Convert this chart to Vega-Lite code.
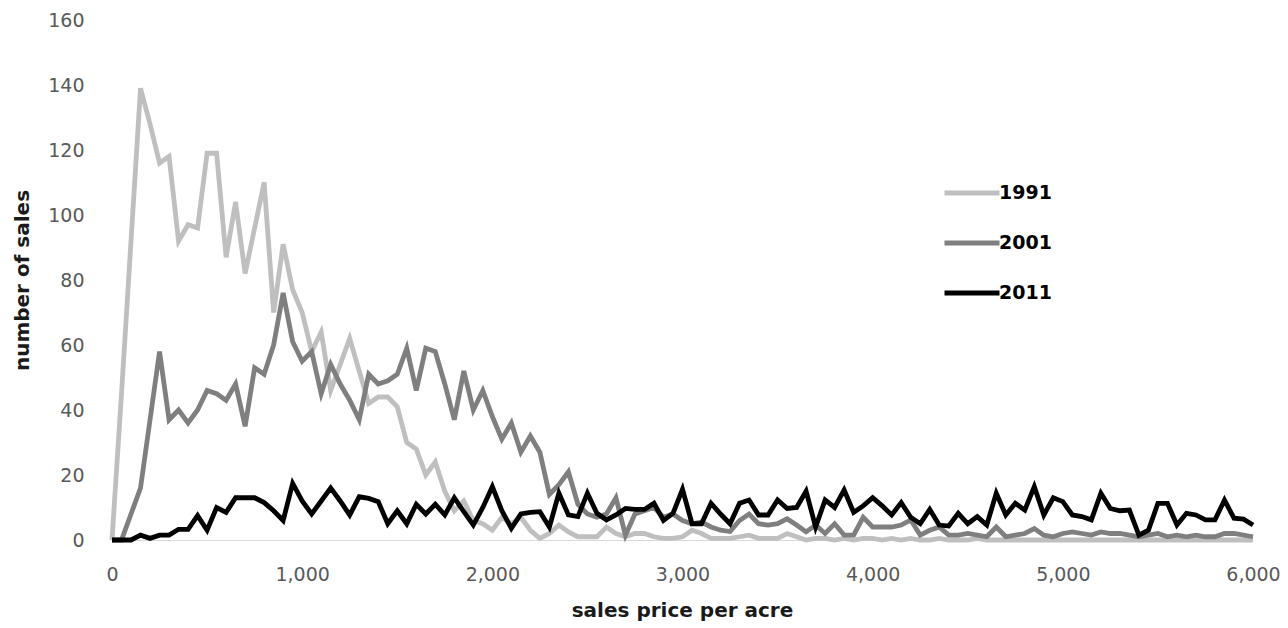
{
  "$schema": "https://vega.github.io/schema/vega-lite/v6.json",
  "width": 1141,
  "height": 520,
  "autosize": {"type": "none"},
  "padding": {"left": 112, "top": 20, "right": 35, "bottom": 88},
  "background": "white",
  "config": {
    "view": {"stroke": null},
    "font": "DejaVu Sans"
  },
  "data": {
    "values": [
      {"p": 0, "1991": 0, "2001": 0, "2011": 0},
      {"p": 50, "1991": 45, "2001": 0, "2011": 0},
      {"p": 100, "1991": 92, "2001": 8, "2011": 0},
      {"p": 150, "1991": 139, "2001": 16, "2011": 1.5},
      {"p": 200, "1991": 128, "2001": 37, "2011": 0.5},
      {"p": 250, "1991": 116, "2001": 58, "2011": 1.5},
      {"p": 300, "1991": 118, "2001": 37, "2011": 1.5},
      {"p": 350, "1991": 92, "2001": 40, "2011": 3.3},
      {"p": 400, "1991": 97, "2001": 36, "2011": 3.3},
      {"p": 450, "1991": 96, "2001": 40, "2011": 7.5},
      {"p": 500, "1991": 119, "2001": 46, "2011": 3},
      {"p": 550, "1991": 119, "2001": 45, "2011": 10},
      {"p": 600, "1991": 87, "2001": 43, "2011": 8.5},
      {"p": 650, "1991": 104, "2001": 48, "2011": 13},
      {"p": 700, "1991": 82, "2001": 35, "2011": 13},
      {"p": 750, "1991": 96, "2001": 53, "2011": 13},
      {"p": 800, "1991": 110, "2001": 51, "2011": 11.5},
      {"p": 850, "1991": 70, "2001": 60, "2011": 9},
      {"p": 900, "1991": 91, "2001": 76, "2011": 6},
      {"p": 950, "1991": 77, "2001": 61, "2011": 17.4},
      {"p": 1000, "1991": 70, "2001": 55, "2011": 12},
      {"p": 1050, "1991": 58, "2001": 58, "2011": 8},
      {"p": 1100, "1991": 64, "2001": 45, "2011": 12},
      {"p": 1150, "1991": 46, "2001": 54, "2011": 16},
      {"p": 1200, "1991": 54, "2001": 48, "2011": 12},
      {"p": 1250, "1991": 62, "2001": 43, "2011": 7.7},
      {"p": 1300, "1991": 52, "2001": 37, "2011": 13.3},
      {"p": 1350, "1991": 42, "2001": 51, "2011": 12.8},
      {"p": 1400, "1991": 44, "2001": 48, "2011": 11.8},
      {"p": 1450, "1991": 44, "2001": 49, "2011": 5},
      {"p": 1500, "1991": 41, "2001": 51, "2011": 9},
      {"p": 1550, "1991": 30, "2001": 59, "2011": 5},
      {"p": 1600, "1991": 28, "2001": 46, "2011": 11},
      {"p": 1650, "1991": 20, "2001": 59, "2011": 8},
      {"p": 1700, "1991": 24, "2001": 58, "2011": 11},
      {"p": 1750, "1991": 15, "2001": 48, "2011": 7.7},
      {"p": 1800, "1991": 9, "2001": 37, "2011": 13},
      {"p": 1850, "1991": 12, "2001": 52, "2011": 8.7},
      {"p": 1900, "1991": 6, "2001": 40, "2011": 4.6},
      {"p": 1950, "1991": 5, "2001": 46, "2011": 10},
      {"p": 2000, "1991": 3, "2001": 38, "2011": 16.4},
      {"p": 2050, "1991": 7, "2001": 31, "2011": 9},
      {"p": 2100, "1991": 5, "2001": 36, "2011": 3.6},
      {"p": 2150, "1991": 7, "2001": 27, "2011": 8},
      {"p": 2200, "1991": 3, "2001": 32, "2011": 8.5},
      {"p": 2250, "1991": 0.5, "2001": 27, "2011": 8.7},
      {"p": 2300, "1991": 2, "2001": 14, "2011": 4},
      {"p": 2350, "1991": 4.6, "2001": 17, "2011": 14.4},
      {"p": 2400, "1991": 2.5, "2001": 21, "2011": 7.7},
      {"p": 2450, "1991": 1, "2001": 11, "2011": 7.2},
      {"p": 2500, "1991": 1, "2001": 8, "2011": 14.4},
      {"p": 2550, "1991": 1, "2001": 7, "2011": 8.2},
      {"p": 2600, "1991": 4, "2001": 8, "2011": 6.2},
      {"p": 2650, "1991": 2, "2001": 13, "2011": 7.7},
      {"p": 2700, "1991": 1, "2001": 1.5, "2011": 9.7},
      {"p": 2750, "1991": 2, "2001": 8, "2011": 9.4},
      {"p": 2800, "1991": 2, "2001": 9, "2011": 9.4},
      {"p": 2850, "1991": 1, "2001": 10, "2011": 11.3},
      {"p": 2900, "1991": 0.5, "2001": 7, "2011": 6},
      {"p": 2950, "1991": 0.5, "2001": 8, "2011": 8.2},
      {"p": 3000, "1991": 1, "2001": 6, "2011": 15.6},
      {"p": 3050, "1991": 3, "2001": 5, "2011": 5},
      {"p": 3100, "1991": 2, "2001": 5.5, "2011": 5},
      {"p": 3150, "1991": 0.5, "2001": 4, "2011": 11.3},
      {"p": 3200, "1991": 0.5, "2001": 3, "2011": 8},
      {"p": 3250, "1991": 0.5, "2001": 2.6, "2011": 5},
      {"p": 3300, "1991": 1, "2001": 6, "2011": 11.3},
      {"p": 3350, "1991": 1.5, "2001": 8, "2011": 12.3},
      {"p": 3400, "1991": 0.5, "2001": 5, "2011": 7.7},
      {"p": 3450, "1991": 0.5, "2001": 4.6, "2011": 7.7},
      {"p": 3500, "1991": 0.5, "2001": 5, "2011": 12.3},
      {"p": 3550, "1991": 2, "2001": 6.5, "2011": 9.7},
      {"p": 3600, "1991": 1, "2001": 4.6, "2011": 10},
      {"p": 3650, "1991": 0, "2001": 2.5, "2011": 15},
      {"p": 3700, "1991": 0.5, "2001": 4.6, "2011": 4},
      {"p": 3750, "1991": 0.5, "2001": 2, "2011": 12.3},
      {"p": 3800, "1991": 0, "2001": 5, "2011": 10},
      {"p": 3850, "1991": 0.5, "2001": 1.5, "2011": 15.4},
      {"p": 3900, "1991": 0, "2001": 1.5, "2011": 8.5},
      {"p": 3950, "1991": 0.5, "2001": 7, "2011": 10.5},
      {"p": 4000, "1991": 0.5, "2001": 4, "2011": 13},
      {"p": 4050, "1991": 0, "2001": 4, "2011": 10.5},
      {"p": 4100, "1991": 0.5, "2001": 4, "2011": 7.7},
      {"p": 4150, "1991": 0, "2001": 4.6, "2011": 11.5},
      {"p": 4200, "1991": 0.5, "2001": 6.2, "2011": 7},
      {"p": 4250, "1991": 0, "2001": 1.5, "2011": 5},
      {"p": 4300, "1991": 0, "2001": 3, "2011": 9.4},
      {"p": 4350, "1991": 0.5, "2001": 4, "2011": 4.6},
      {"p": 4400, "1991": 0, "2001": 1.5, "2011": 4.3},
      {"p": 4450, "1991": 0, "2001": 1.5, "2011": 8.2},
      {"p": 4500, "1991": 0, "2001": 2, "2011": 5},
      {"p": 4550, "1991": 0.5, "2001": 1.5, "2011": 7.2},
      {"p": 4600, "1991": 0, "2001": 1, "2011": 4.6},
      {"p": 4650, "1991": 0, "2001": 4, "2011": 14.4},
      {"p": 4700, "1991": 0, "2001": 1, "2011": 7.7},
      {"p": 4750, "1991": 0, "2001": 1.5, "2011": 11.3},
      {"p": 4800, "1991": 0, "2001": 2, "2011": 9.2},
      {"p": 4850, "1991": 0, "2001": 3.5, "2011": 16.4},
      {"p": 4900, "1991": 0, "2001": 1.5, "2011": 7.7},
      {"p": 4950, "1991": 0, "2001": 1, "2011": 13},
      {"p": 5000, "1991": 0, "2001": 2, "2011": 11.8},
      {"p": 5050, "1991": 0, "2001": 2.5, "2011": 7.7},
      {"p": 5100, "1991": 0, "2001": 2, "2011": 7.2},
      {"p": 5150, "1991": 0, "2001": 1.5, "2011": 6.2},
      {"p": 5200, "1991": 0, "2001": 2.5, "2011": 14.4},
      {"p": 5250, "1991": 0, "2001": 2, "2011": 9.7},
      {"p": 5300, "1991": 0, "2001": 2, "2011": 9},
      {"p": 5350, "1991": 0, "2001": 1.5, "2011": 9.2},
      {"p": 5400, "1991": 0, "2001": 1, "2011": 1.5},
      {"p": 5450, "1991": 0, "2001": 1.5, "2011": 3},
      {"p": 5500, "1991": 0, "2001": 2, "2011": 11.3},
      {"p": 5550, "1991": 0, "2001": 1, "2011": 11.3},
      {"p": 5600, "1991": 0, "2001": 1.5, "2011": 4.6},
      {"p": 5650, "1991": 0, "2001": 1, "2011": 8.2},
      {"p": 5700, "1991": 0, "2001": 1.5, "2011": 7.7},
      {"p": 5750, "1991": 0, "2001": 1, "2011": 6.2},
      {"p": 5800, "1991": 0, "2001": 1, "2011": 6.2},
      {"p": 5850, "1991": 0, "2001": 2, "2011": 12.3},
      {"p": 5900, "1991": 0, "2001": 2, "2011": 6.7},
      {"p": 5950, "1991": 0, "2001": 1.5, "2011": 6.4},
      {"p": 6000, "1991": 0, "2001": 1, "2011": 4.6}
    ]
  },
  "transform": [{"fold": ["1991", "2001", "2011"], "as": ["year", "sales"]}],
  "mark": {"type": "line", "strokeWidth": 4.8, "strokeJoin": "miter", "clip": false},
  "encoding": {
    "x": {
      "field": "p",
      "type": "quantitative",
      "scale": {"domain": [0, 6000], "nice": false, "zero": true},
      "axis": {
        "values": [0, 1000, 2000, 3000, 4000, 5000, 6000],
        "format": ",.0f",
        "grid": false,
        "ticks": false,
        "domain": true,
        "domainColor": "#d9d9d9",
        "domainWidth": 1,
        "labelFont": "DejaVu Sans",
        "labelFontSize": 19,
        "labelColor": "#595959",
        "labelPadding": 25,
        "labelFlush": false,
        "title": "sales price per acre",
        "titleFont": "DejaVu Sans",
        "titleFontSize": 20,
        "titleFontWeight": "bold",
        "titleColor": "#1a1a1a",
        "titleX": 570,
        "titleY": 70,
        "titleBaseline": "middle",
        "titleAlign": "center"
      }
    },
    "y": {
      "field": "sales",
      "type": "quantitative",
      "scale": {"domain": [0, 160], "nice": false},
      "axis": {
        "values": [0, 20, 40, 60, 80, 100, 120, 140, 160],
        "grid": false,
        "ticks": false,
        "domain": false,
        "labelFont": "DejaVu Sans",
        "labelFontSize": 19,
        "labelColor": "#595959",
        "labelPadding": 28,
        "title": "number of sales",
        "titleFont": "DejaVu Sans",
        "titleFontSize": 20,
        "titleFontWeight": "bold",
        "titleColor": "#1a1a1a",
        "titleAngle": -90,
        "titleX": -90,
        "titleY": 260,
        "titleBaseline": "middle",
        "titleAlign": "center"
      }
    },
    "color": {
      "field": "year",
      "type": "nominal",
      "scale": {"domain": ["1991", "2001", "2011"], "range": ["#bfbfbf", "#7f7f7f", "#000000"]},
      "legend": {
        "title": null,
        "orient": "none",
        "legendX": 830,
        "legendY": 158,
        "symbolType": "stroke",
        "symbolSize": 3025,
        "symbolStrokeWidth": 5,
        "labelFont": "DejaVu Sans",
        "labelFontSize": 19,
        "labelFontWeight": "bold",
        "labelColor": "#000000",
        "labelOffset": -3,
        "clipHeight": 30,
        "rowPadding": 20
      }
    }
  }
}
